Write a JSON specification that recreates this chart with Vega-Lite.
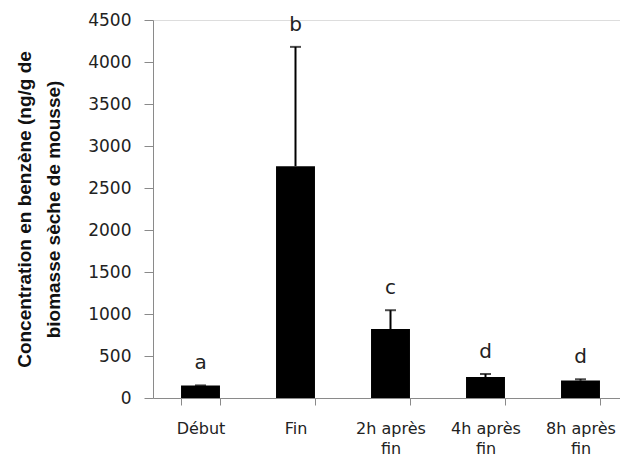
{
  "$schema": "https://vega.github.io/schema/vega-lite/v6.json",
  "autosize": {"type": "none"},
  "padding": {"left": 153, "top": 20, "right": 0, "bottom": 59},
  "width": 475,
  "height": 378,
  "background": "white",
  "data": {"values": [
    {"groupe": "Début", "valeur": 150, "haut": 150, "lettre": "a"},
    {"groupe": "Fin", "valeur": 2760, "haut": 4180, "lettre": "b"},
    {"groupe": "2h après fin", "valeur": 820, "haut": 1045, "lettre": "c"},
    {"groupe": "4h après fin", "valeur": 250, "haut": 286, "lettre": "d"},
    {"groupe": "8h après fin", "valeur": 207, "haut": 223, "lettre": "d"}
  ]},
  "encoding": {
    "x": {
      "field": "groupe", "type": "nominal", "sort": null,
      "scale": {"paddingInner": 0.59, "paddingOuter": 0.295},
      "axis": {
        "title": null, "labelAngle": 0, "domainColor": "#8a8a8a", "tickColor": "#8a8a8a",
        "tickBand": "extent", "tickSize": 7, "labelPadding": 15,
        "labelFont": "DejaVu Sans", "labelFontSize": 16, "labelColor": "#222",
        "labelLineHeight": 20, "labelBaseline": "top",
        "labelExpr": "slice(datum.label, -4) == ' fin' ? [slice(datum.label, 0, -4), 'fin'] : datum.label"
      }
    }
  },
  "layer": [
    {
      "mark": {"type": "bar", "color": "black"},
      "encoding": {
        "y": {
          "field": "valeur", "type": "quantitative",
          "scale": {"domain": [0, 4500], "nice": false},
          "axis": {
            "values": [0, 500, 1000, 1500, 2000, 2500, 3000, 3500, 4000, 4500],
            "format": "d",
            "grid": false, "domainColor": "#8a8a8a", "tickColor": "#8a8a8a", "tickSize": 9,
            "labelPadding": 13, "labelFont": "DejaVu Sans", "labelFontSize": 17, "labelColor": "#222",
            "title": ["Concentration en benzène (ng/g de", "biomasse sèche de mousse)"],
            "titleFont": "Liberation Sans", "titleFontSize": 19, "titleFontWeight": "bold",
            "titleColor": "#111", "titleLineHeight": 29, "titlePadding": 24
          }
        }
      }
    },
    {
      "mark": {"type": "rule", "color": "black", "strokeWidth": 2},
      "encoding": {
        "y": {"field": "valeur", "type": "quantitative"},
        "y2": {"field": "haut"}
      }
    },
    {
      "mark": {"type": "tick", "color": "black", "thickness": 2, "size": 11},
      "encoding": {
        "y": {"field": "haut", "type": "quantitative"}
      }
    },
    {
      "mark": {"type": "text", "font": "DejaVu Sans", "fontSize": 20, "color": "#222", "baseline": "middle", "dy": -22},
      "encoding": {
        "y": {"field": "haut", "type": "quantitative"},
        "text": {"field": "lettre"}
      }
    }
  ]
}
